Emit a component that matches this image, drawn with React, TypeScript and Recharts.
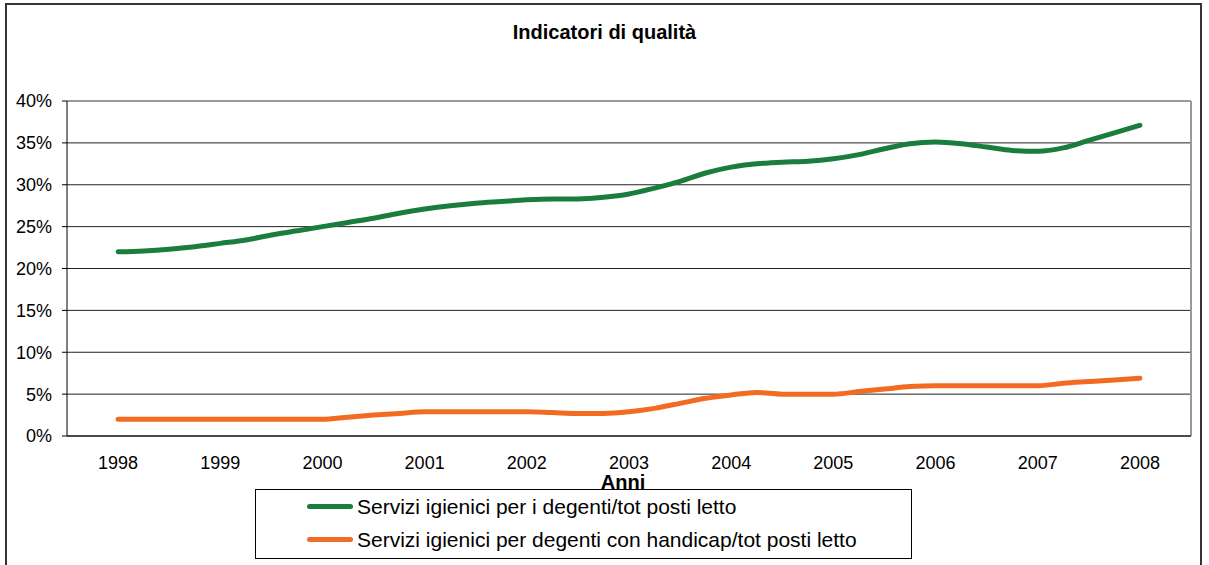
import React from "react";
import {
  LineChart,
  Line,
  XAxis,
  YAxis,
  CartesianGrid,
  ReferenceLine,
} from "recharts";

// quarterly readings, labelled by year
const periods = [
  1998, 1998.25, 1998.5, 1998.75, 1999, 1999.25, 1999.5, 1999.75,
  2000, 2000.25, 2000.5, 2000.75, 2001, 2001.25, 2001.5, 2001.75,
  2002, 2002.25, 2002.5, 2002.75, 2003, 2003.25, 2003.5, 2003.75,
  2004, 2004.25, 2004.5, 2004.75, 2005, 2005.25, 2005.5, 2005.75,
  2006, 2006.25, 2006.5, 2006.75, 2007, 2007.25, 2007.5, 2007.75,
  2008,
];

const serviziDegenti = [
  22.0, 22.1, 22.3, 22.6, 23.0, 23.4, 24.0, 24.5,
  25.0, 25.5, 26.0, 26.6, 27.1, 27.5, 27.8, 28.0,
  28.2, 28.3, 28.3, 28.5, 28.9, 29.6, 30.4, 31.4,
  32.1, 32.5, 32.7, 32.8, 33.1, 33.6, 34.3, 34.9,
  35.1, 34.9, 34.5, 34.1, 34.0, 34.4, 35.3, 36.2,
  37.1,
];

const serviziHandicap = [
  2.0, 2.0, 2.0, 2.0, 2.0, 2.0, 2.0, 2.0,
  2.0, 2.25, 2.5, 2.7, 2.9, 2.9, 2.9, 2.9,
  2.9, 2.8, 2.7, 2.7, 2.9, 3.3, 3.9, 4.5,
  4.9, 5.2, 5.0, 5.0, 5.0, 5.3, 5.6, 5.9,
  6.0, 6.0, 6.0, 6.0, 6.0, 6.3, 6.5, 6.7,
  6.9,
];

const yearTicks = [1998, 1999, 2000, 2001, 2002, 2003, 2004, 2005, 2006, 2007, 2008];
const boundaryTicks = [
  1997.5, 1998.5, 1999.5, 2000.5, 2001.5, 2002.5, 2003.5, 2004.5, 2005.5,
  2006.5, 2007.5, 2008.5,
];
const percentTicks = [0, 5, 10, 15, 20, 25, 30, 35, 40];

const SERIES = [
  { key: "degenti", name: "Servizi igienici per i degenti/tot posti letto", color: "#1b7d3d" },
  { key: "handicap", name: "Servizi igienici per degenti con handicap/tot posti letto", color: "#f36b22" },
];

const FONT = '"Liberation Sans", Arial, sans-serif';

const data = periods.map((p, i) => ({
  period: p,
  degenti: serviziDegenti[i],
  handicap: serviziHandicap[i],
}));

function LegendBox() {
  return (
    <div
      style={{
        position: "absolute",
        left: 255,
        top: 489,
        width: 657,
        height: 70,
        border: "1px solid #000",
        boxSizing: "border-box",
        background: "#fff",
      }}
    >
      {SERIES.map((s) => (
        <div
          key={s.key}
          style={{ display: "flex", alignItems: "center", height: 33, marginLeft: 51 }}
        >
          <span
            style={{
              display: "inline-block",
              width: 46,
              height: 5,
              borderRadius: 3,
              background: s.color,
              marginRight: 4,
            }}
          />
          <span style={{ fontSize: 21, color: "#000", fontFamily: FONT }}>{s.name}</span>
        </div>
      ))}
    </div>
  );
}

export default function App() {
  return (
    <div
      style={{
        position: "absolute",
        left: 0,
        top: 0,
        width: 1209,
        height: 565,
        overflow: "hidden",
        background: "#fff",
        fontFamily: FONT,
      }}
    >
      <div
        style={{
          position: "absolute",
          left: 5,
          top: 3,
          width: 1197,
          height: 580,
          border: "2px solid #333",
          boxSizing: "border-box",
        }}
      />
      <div
        style={{
          position: "absolute",
          left: 0,
          width: 1209,
          top: 21,
          textAlign: "center",
          fontSize: 20,
          fontWeight: "bold",
          color: "#000",
          lineHeight: "22px",
        }}
      >
        Indicatori di qualità
      </div>
      <LineChart
        width={1209}
        height={565}
        data={data}
        margin={{ top: 101, right: 18, left: 7, bottom: 127 }}
        style={{ position: "absolute", left: 0, top: 0 }}
      >
        <CartesianGrid vertical={false} stroke="#222" />
        <XAxis
          xAxisId="b"
          dataKey="period"
          type="number"
          domain={[1997.5, 2008.5]}
          ticks={boundaryTicks}
          interval={0}
          tick={false}
          tickSize={5}
          height={1}
          stroke="#000"
          axisLine={{ stroke: "#000" }}
          tickLine={{ stroke: "#000" }}
        />
        <XAxis
          xAxisId="y"
          dataKey="period"
          type="number"
          domain={[1997.5, 2008.5]}
          ticks={yearTicks}
          interval={0}
          tickSize={5}
          tickMargin={14}
          height={1}
          axisLine={false}
          tickLine={false}
          tick={{ fontSize: 18, fill: "#000", fontFamily: FONT }}
        />
        <YAxis
          domain={[0, 40]}
          ticks={percentTicks}
          interval={0}
          width={60}
          tickSize={5}
          tickMargin={10}
          tickFormatter={(v: number) => `${v}%`}
          axisLine={{ stroke: "#000" }}
          tickLine={{ stroke: "#000" }}
          tick={{ fontSize: 18, fill: "#000", fontFamily: FONT }}
        />
        <ReferenceLine y={40} xAxisId="b" stroke="#999" strokeWidth={2} />
        <ReferenceLine x={2008.5} xAxisId="b" stroke="#999" strokeWidth={2} />
        {SERIES.map((s) => (
          <Line
            key={s.key}
            xAxisId="b"
            type="monotone"
            dataKey={s.key}
            name={s.name}
            stroke={s.color}
            strokeWidth={5}
            strokeLinecap="round"
            dot={false}
            activeDot={false}
            isAnimationActive={false}
          />
        ))}
      </LineChart>
      <div
        style={{
          position: "absolute",
          left: 573,
          width: 100,
          top: 472,
          textAlign: "center",
          fontSize: 20,
          fontWeight: "bold",
          color: "#000",
          lineHeight: "20px",
        }}
      >
        Anni
      </div>
      <LegendBox />
    </div>
  );
}
